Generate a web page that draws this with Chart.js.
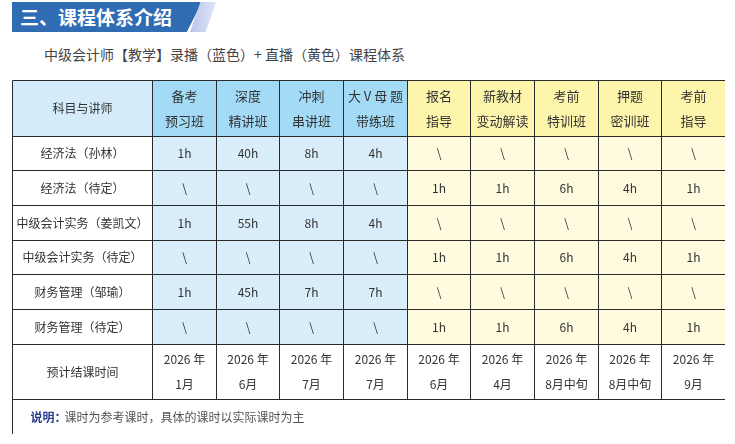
<!DOCTYPE html>
<html><head><meta charset="utf-8">
<script src="https://cdn.jsdelivr.net/npm/chart.js@4"></script>
<style>
body{margin:0;background:#fff;font-family:"Noto Sans CJK SC","Noto Sans",sans-serif;width:735px;height:444px;position:relative;overflow:hidden}
#banner{position:absolute;left:12px;top:2px;width:190px;height:30px;background:#2f6cb3;color:#fff;font-weight:bold;font-size:19px;line-height:30px;padding-left:8px;box-sizing:border-box;clip-path:polygon(0 0,100% 0,92% 100%,0 100%)}
#stripe{position:absolute;left:190px;top:2px;width:26px;height:30px;background:linear-gradient(90deg,#b9c6ea,#dfe5f6);clip-path:polygon(40% 0,100% 0,60% 100%,0 100%)}
#sub{position:absolute;left:44px;top:44px;font-size:14px;color:#444}
#wrap{position:absolute;left:12px;top:80px;width:713px;height:354px}
</style></head><body>
<div id="banner">三、课程体系介绍</div><div id="stripe"></div>
<div id="sub">中级会计师【教学】录播（蓝色）+ 直播（黄色）课程体系</div>
<div id="wrap"><canvas id="tbl"></canvas></div>
<script>
const headers = ['科目与讲师', '备考\n预习班', '深度\n精讲班', '冲刺\n串讲班', '大 V 母 题\n带练班', '报名\n指导', '新教材\n变动解读', '考前\n特训班', '押题\n密训班', '考前\n指导'];
const subjects = ['经济法（孙林）', '经济法（待定）', '中级会计实务（姜凯文）', '中级会计实务（待定）', '财务管理（邹瑜）', '财务管理（待定）'];
const hours = [
  ['1h', '40h', '8h', '4h', '\\', '\\', '\\', '\\', '\\'],
  ['\\', '\\', '\\', '\\', '1h', '1h', '6h', '4h', '1h'],
  ['1h', '55h', '8h', '4h', '\\', '\\', '\\', '\\', '\\'],
  ['\\', '\\', '\\', '\\', '1h', '1h', '6h', '4h', '1h'],
  ['1h', '45h', '7h', '7h', '\\', '\\', '\\', '\\', '\\'],
  ['\\', '\\', '\\', '\\', '1h', '1h', '6h', '4h', '1h']
];
const endLabel = '预计结课时间';
const endDates = ['2026 年\n1月', '2026 年\n6月', '2026 年\n7月', '2026 年\n7月', '2026 年\n6月', '2026 年\n4月', '2026 年\n8月中旬', '2026 年\n8月中旬', '2026 年\n9月'];
const noteLabel = '说明：';
const noteText = '课时为参考课时，具体的课时以实际课时为主';
const recordedCount = 4;

// column / row extents in scale units
const firstColW = 2.2;
const rowH = [1.6, 1, 1, 1, 1, 1, 1, 1.6, 1];
const colEdges = [0, firstColW];
for (let i = 1; i < headers.length; i++) colEdges.push(firstColW + i);
const rowEdges = [0];
rowH.forEach(h => rowEdges.push(rowEdges[rowEdges.length - 1] + h));

const tablePlugin = {
  id: 'table',
  afterDraw(chart) {
    const ctx = chart.ctx, xs = chart.scales.x, ys = chart.scales.y;
    const X = v => Math.round(xs.getPixelForValue(v)) + 0.5;
    const Y = v => Math.round(ys.getPixelForValue(v)) + 0.5;
    const nCols = headers.length;
    const grid = [headers];
    subjects.forEach((s, i) => grid.push([s].concat(hours[i])));
    grid.push([endLabel].concat(endDates));

    function fill(c, r) {
      const blue = c >= 1 && c <= recordedCount;
      if (c === 0) return r === 0 ? '#d3ebfa' : '#ffffff';
      if (r === grid.length - 1) return '#ffffff';
      if (r === 0) return blue ? '#a3daf6' : '#fdf5ab';
      return blue ? '#d9eefa' : '#fffbdf';
    }
    grid.forEach((row, r) => {
      row.forEach((txt, c) => {
        const x0 = X(colEdges[c]), x1 = X(colEdges[c + 1]);
        const y0 = Y(rowEdges[r]), y1 = Y(rowEdges[r + 1]);
        ctx.fillStyle = fill(c, r);
        ctx.fillRect(x0, y0, x1 - x0, y1 - y0);
        const lines = txt.split('\n');
        ctx.fillStyle = '#333';
        ctx.textAlign = 'center';
        ctx.textBaseline = 'middle';
        const fs = r === 0 && c > 0 ? 13 : 12;
        ctx.font = fs + 'px "Noto Sans CJK SC", sans-serif';
        const lh = 25;
        lines.forEach((ln, k) => {
          ctx.fillText(ln, (x0 + x1) / 2, (y0 + y1) / 2 + (k - (lines.length - 1) / 2) * lh);
        });
      });
    });
    // borders
    ctx.strokeStyle = '#2b2b2b';
    ctx.lineWidth = 1;
    ctx.beginPath();
    const last = rowEdges.length - 1;
    rowEdges.forEach((e, r) => { ctx.moveTo(X(0), Y(e)); ctx.lineTo(X(colEdges[nCols]), Y(e)); });
    colEdges.forEach((e, c) => {
      const bottom = (c === 0 || c === nCols) ? rowEdges[last] : rowEdges[last - 1];
      ctx.moveTo(X(e), Y(0)); ctx.lineTo(X(e), Y(bottom));
    });
    ctx.stroke();
    // note row
    const ny = (Y(rowEdges[last - 1]) + Y(rowEdges[last])) / 2;
    ctx.textAlign = 'left';
    ctx.font = 'bold 12px "Noto Sans CJK SC", sans-serif';
    ctx.fillStyle = '#2a3f8f';
    ctx.fillText(noteLabel, X(0) + 18, ny);
    const w = ctx.measureText(noteLabel).width;
    ctx.font = '12px "Noto Sans CJK SC", sans-serif';
    ctx.fillStyle = '#555';
    ctx.fillText(noteText, X(0) + 18 + w - 2, ny);
  }
};

new Chart(document.getElementById('tbl'), {
  type: 'scatter',
  data: { datasets: [{ data: [] }] },
  plugins: [tablePlugin],
  options: {
    responsive: true,
    maintainAspectRatio: false,
    animation: false,
    layout: { padding: 0 },
    plugins: { legend: { display: false }, tooltip: { enabled: false } },
    scales: {
      x: { type: 'linear', min: 0, max: colEdges[colEdges.length - 1], display: false },
      y: { type: 'linear', min: 0, max: rowEdges[rowEdges.length - 1], reverse: true, display: false }
    }
  }
});
</script>
</body></html>
